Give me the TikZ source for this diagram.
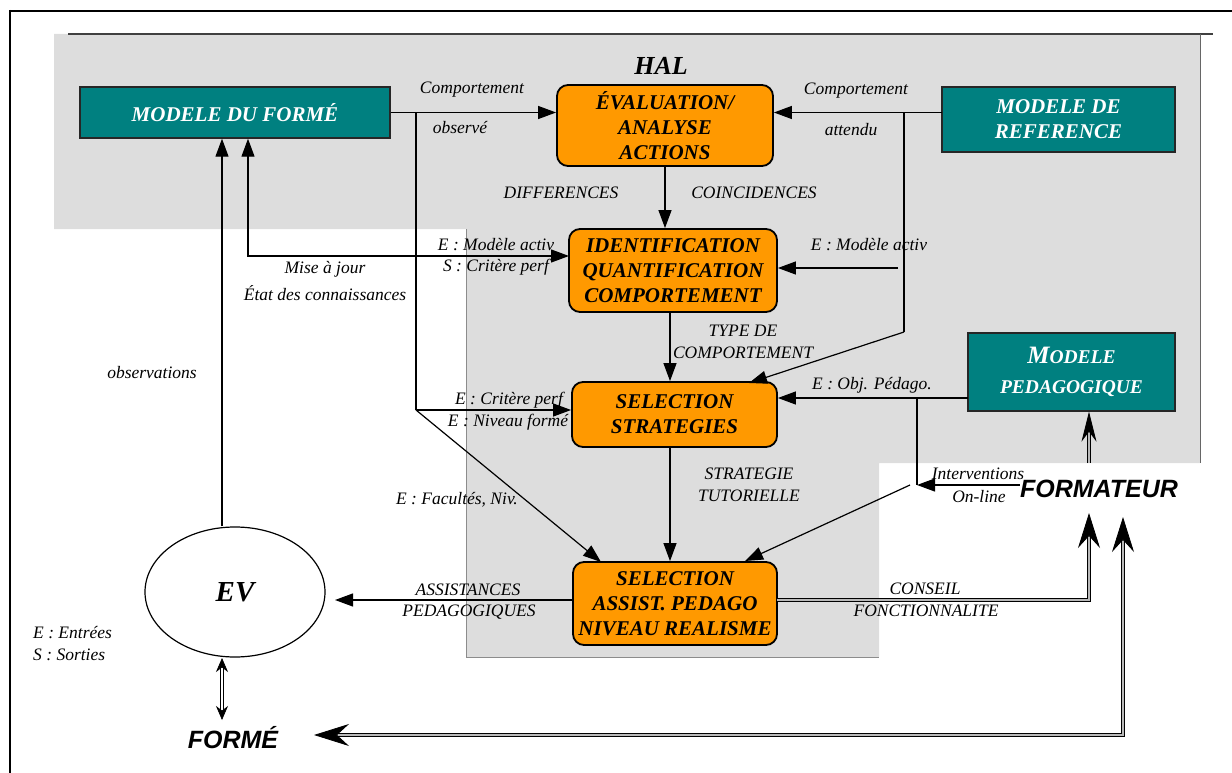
\documentclass[tikz,border=0pt]{standalone}
\usepackage{fontspec}
\setmainfont{Liberation Serif}
\newfontfamily\arialf{Liberation Sans}
\usetikzlibrary{arrows.meta,shapes.geometric}
\definecolor{tealbox}{HTML}{008080}
\definecolor{orangebox}{HTML}{FF9900}
\definecolor{halgray}{HTML}{DDDDDD}
\begin{document}
\begin{tikzpicture}[x=1pt,y=-1pt,
  lbl/.style={font=\fontsize{17.5}{21}\selectfont\itshape, inner sep=0pt, align=center},
  obox/.style={draw=black, line width=1.8pt, fill=orangebox, rounded corners=11pt, align=center, inner sep=0pt, font=\fontsize{21}{25}\selectfont\bfseries\itshape},
  tbox/.style={draw=black!85, line width=1.4pt, fill=tealbox, text=white, align=center, inner sep=0pt, font=\fontsize{21}{25}\selectfont\bfseries\itshape},
  conn/.style={line width=1.2pt},
  arr/.style={conn, -{Triangle[length=18pt,width=13pt]}},
  dbl/.style={line width=0.8pt, double=gray!55, double distance=1.8pt},
  bigtip/.style={-{Stealth[length=35pt,width=22pt,inset=12pt]}},
  big/.style={font=\arialf\fontsize{25}{30}\selectfont\bfseries\itshape, inner sep=0pt}
]
\useasboundingbox (0,0) rectangle (1232,773);

% gray HAL area
\fill[halgray] (54,34) -- (1200,34) -- (1200,463) -- (879,463) -- (879,657) -- (466,657) -- (466,229) -- (54,229) -- cycle;
\draw[black!75, line width=1.2pt] (68,34) -- (1213,34);
\draw[black!60, line width=1pt] (1200,34) -- (1200,463);
\draw[black!45, line width=0.8pt] (466,229) -- (466,657) -- (879,657);

% outer frame
\draw[line width=2pt] (9,11) -- (1232,11);
\draw[line width=2pt] (10,10) -- (10,773);

% nodes
\node[tbox, minimum width=310pt, minimum height=51pt] (mdf) at (235,112.5) {MODELE DU FORMÉ};
\node[obox, minimum width=216pt, minimum height=81pt] (eval) at (665,125.5) {ÉVALUATION/\\ANALYSE\\ACTIONS};
\node[tbox, minimum width=233pt, minimum height=65pt] (mref) at (1058.5,119.5) {MODELE DE\\REFERENCE};
\node[obox, minimum width=208pt, minimum height=83pt] (ident) at (673,270.5) {IDENTIFICATION\\QUANTIFICATION\\COMPORTEMENT};
\node[obox, minimum width=205pt, minimum height=65pt] (sel) at (674.5,414.5) {SELECTION\\STRATEGIES};
\node[tbox, minimum width=207pt, minimum height=78pt, font=\fontsize{19.5}{30}\selectfont\bfseries\itshape] (mped) at (1071.5,372) {{\fontsize{25}{30}\selectfont M}ODELE\\PEDAGOGIQUE};
\node[obox, minimum width=204pt, minimum height=83pt] (assist) at (675,603.5) {SELECTION\\ASSIST. PEDAGO\\NIVEAU REALISME};
\node[draw, ellipse, line width=1.2pt, fill=white, minimum width=180pt, minimum height=130pt, inner sep=0pt, font=\fontsize{29}{34}\selectfont\bfseries\itshape] (ev) at (235,592) {EV};
\node[big] (formateur) at (1099,489) {FORMATEUR};
\node[big] (forme) at (233,738) {FORMÉ};
\node[font=\fontsize{26}{30}\selectfont\bfseries\itshape, inner sep=0pt] (hal) at (661,66) {HAL};

% labels
\node[lbl] (l1) at (472,90) {Comportement};
\node[lbl] (l2) at (460,128) {observé};
\node[lbl] (l3) at (856,91) {Comportement};
\node[lbl] (l4) at (851,130) {attendu};
\node[lbl] (l5) at (561,193) {DIFFERENCES};
\node[lbl] (l6) at (754,193) {COINCIDENCES};
\node[lbl] (l7) at (496,245) {E : Modèle activ};
\node[lbl] (l8) at (496,267) {S : Critère perf};
\node[lbl] (l9) at (325,269) {Mise à jour};
\node[lbl] (l10) at (325,293) {État des connaissances};
\node[lbl] (l11) at (869,245) {E : Modèle activ};
\node[lbl] (l12) at (743,331) {TYPE DE};
\node[lbl] (l13) at (743,353) {COMPORTEMENT};
\node[lbl] (l14) at (152,373) {observations};
\node[lbl] (l15) at (509,400) {E : Critère perf};
\node[lbl] (l16) at (508,422) {E : Niveau formé};
\node[lbl] (l17) at (872,385) {E : Obj. Pédago.};
\node[lbl] (l18) at (749,474) {STRATEGIE};
\node[lbl] (l19) at (749,496) {TUTORIELLE};
\node[lbl] (l20) at (978,474) {Interventions};
\node[lbl] (l21) at (979,497) {On-line};
\node[lbl] (l22) at (457,500) {E : Facultés, Niv.};
\node[lbl] (l23) at (468,590) {ASSISTANCES};
\node[lbl] (l24) at (469,612) {PEDAGOGIQUES};
\node[lbl] (l25) at (925,589) {CONSEIL};
\node[lbl] (l26) at (926,611) {FONCTIONNALITE};
\node[lbl, anchor=west] (l27) at (33,633) {E : Entrées};
\node[lbl, anchor=west] (l28) at (33,655) {S : Sorties};

% coordinates
\coordinate (jo) at (416,112.5);
\coordinate (js) at (416,410);
\coordinate (assistTL) at (601,562);
\coordinate (ja) at (942,112.5);
\coordinate (jr) at (904,112.5);
\coordinate (jr2) at (904,332);
\coordinate (selTR) at (749,383);
\coordinate (mi) at (898,268);
\coordinate (po) at (968,398);
\coordinate (pv) at (917,398);
\coordinate (pv2) at (917,485);
\coordinate (pd) at (910,485);
\coordinate (assistTR) at (745,561);
\coordinate (iw) at (569,256);
\coordinate (aw) at (573,600);
\coordinate (evr) at (335,600);
\coordinate (ae) at (777,600);
\coordinate (fa) at (1089,513);
\coordinate (fm) at (1089,463);
\coordinate (fe) at (314,735);
\coordinate (ft) at (1123,517);
\coordinate (evb) at (222,658);
\coordinate (fmt) at (222,720);

% connectors
\draw[arr] (mdf.east) -- (mdf.east -| eval.west);
\draw[conn] (jo) -- (js);
\draw[arr] (js) -- (js -| sel.west);
\draw[arr] (js) -- (assistTL);
\draw[arr] (ja) -- (ja -| eval.east);
\draw[conn] (jr) -- (jr2);
\draw[arr] (jr2) -- (selTR);
\draw[arr] (mi) -- (mi -| ident.east);
\draw[arr] (eval.south) -- (eval.south |- ident.north);
\draw[arr] ([xshift=-3pt]ident.south) -- ([xshift=-3pt]ident.south |- sel.north);
\draw[arr] ([xshift=-4.5pt]sel.south) -- ([xshift=-4.5pt]sel.south |- assist.north);
\draw[arr] (po) -- (po -| sel.east);
\draw[conn] (pv) -- (pv2);
\draw[arr] (formateur.west |- pv2) -- (pv2);
\draw[arr] (pd) -- (assistTR);
\draw[arr] ([xshift=-13pt]ev.north) -- ([xshift=-13pt]ev.north |- mdf.south);
\draw[conn, {Triangle[length=18pt,width=13pt]}-{Triangle[length=18pt,width=13pt]}] ([xshift=13pt]mdf.south) |- (iw);
\draw[arr] (aw) -- (evr);

% double connectors
\draw[dbl, bigtip] (ae) -| (fa);
\draw[dbl, -{Stealth[length=30pt,width=15pt,inset=10pt]}] (fm) -- (fm |- mped.south);
\draw[dbl, {Stealth[length=35pt,width=22pt,inset=12pt]}-{Stealth[length=35pt,width=22pt,inset=12pt]}] (fe) -| (ft);
\draw[line width=0.7pt, double=white, double distance=2.5pt, {Stealth[length=14pt,width=12pt]}-{Stealth[length=14pt,width=12pt]}] (evb) -- (fmt);
\end{tikzpicture}
\end{document}
